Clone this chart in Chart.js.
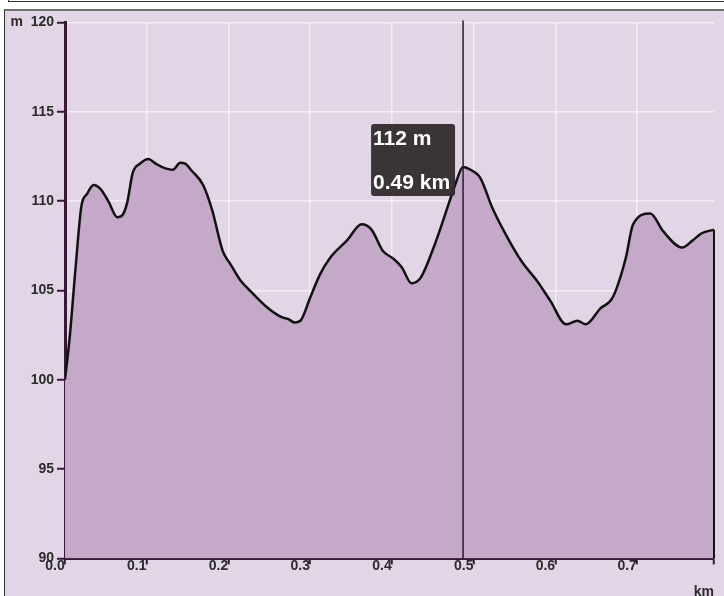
<!DOCTYPE html>
<html>
<head>
<meta charset="utf-8">
<script src="https://cdn.jsdelivr.net/npm/chart.js@4.4.1/dist/chart.umd.min.js"></script>
<style>
  html, body { margin: 0; padding: 0; background: #fff; overflow: hidden; }
  #top-box { position: absolute; left: 8px; right: 0; top: -10px; height: 10px; border: 1px solid #333; border-right: none; }
  #chart-box { position: absolute; left: 4px; top: 9px; width: 720px; height: 620px; background: #e2d5e6; border-left: 1px solid #333; border-top: 2px solid #6f6f6f; }
  canvas { display: block; }
</style>
</head>
<body>
<div id="top-box"></div>
<div id="chart-box"><canvas id="profile" width="719" height="590"></canvas></div>
<script>
'use strict';
// ***** DATA *****
let distanceKm = [0.000, 0.006, 0.013, 0.020, 0.027, 0.035, 0.043, 0.053, 0.064, 0.070,
  0.076, 0.083, 0.092, 0.102, 0.111, 0.119, 0.132, 0.141, 0.147, 0.155,
  0.169, 0.180, 0.193, 0.202, 0.214, 0.226, 0.246, 0.265, 0.273, 0.281,
  0.288, 0.300, 0.312, 0.324, 0.345, 0.363, 0.375, 0.389, 0.401, 0.412,
  0.424, 0.435, 0.451, 0.472, 0.478, 0.487, 0.494, 0.508, 0.523, 0.542,
  0.559, 0.578, 0.594, 0.613, 0.627, 0.637, 0.655, 0.670, 0.686, 0.695,
  0.716, 0.732, 0.755, 0.768, 0.779, 0.794];
let elevationM = [100.0, 102.5, 106.3, 109.7, 110.4, 110.9, 110.7, 110.0, 109.1, 109.2,
  109.9, 111.6, 112.1, 112.35, 112.1, 111.9, 111.75, 112.15, 112.1, 111.7,
  110.9, 109.5, 107.2, 106.5, 105.6, 105.0, 104.1, 103.5, 103.4, 103.2,
  103.3, 104.6, 105.9, 106.8, 107.8, 108.7, 108.4, 107.2, 106.8, 106.3,
  105.4, 105.7, 107.4, 110.2, 111.0, 111.9, 111.8, 111.3, 109.6, 107.9,
  106.6, 105.5, 104.4, 103.1, 103.3, 103.1, 104.0, 104.6, 106.8, 108.7,
  109.3, 108.3, 107.4, 107.8, 108.2, 108.4];
let xTickStep = 0.1;
let yTickStep = 5;
let yMin = 90;
let yMax = 120;
let hoverIndex = 45; // point under the cursor (0.49 km)

// ***** STYLE *****
let axisColor = '#351935';
let labelColor = '#2b2b2b';
let gridColor = 'rgba(255,255,255,0.6)';

Chart.defaults.font.family = '"Liberation Sans", Arial, sans-serif';

let points = distanceKm.map((d, i) => ({ x: d, y: elevationM[i] }));
let xMax = distanceKm[distanceKm.length - 1];

// Crosshair, hover label and closing edge of the profile
let hoverPlugin = {
  id: 'hoverPlugin',
  afterDatasetsDraw(chart) {
    let c = chart.ctx;
    let area = chart.chartArea;
    let meta = chart.getDatasetMeta(0);
    let last = meta.data[meta.data.length - 1];

    c.save();
    c.strokeStyle = '#111';
    c.lineWidth = 2;
    c.beginPath();
    c.moveTo(last.x, last.y);
    c.lineTo(last.x, area.bottom);
    c.stroke();

    let pt = meta.data[hoverIndex];
    c.strokeStyle = '#2a1a2a';
    c.lineWidth = 1.5;
    c.beginPath();
    c.moveTo(pt.x, area.top - 2);
    c.lineTo(pt.x, area.bottom);
    c.stroke();

    let boxW = 84;
    let boxH = 72;
    let boxX = pt.x - 8 - boxW;
    let boxY = pt.y - 43;
    c.fillStyle = 'rgba(48,43,46,0.95)';
    c.beginPath();
    c.roundRect(boxX, boxY, boxW, boxH, 3);
    c.fill();

    c.fillStyle = '#fff';
    c.font = 'bold 21px "Liberation Sans", Arial, sans-serif';
    c.textBaseline = 'middle';
    c.textAlign = 'left';
    c.fillText(Math.round(elevationM[hoverIndex]) + ' m', boxX + 2, boxY + 15);
    c.fillText(distanceKm[hoverIndex].toFixed(2) + ' km', boxX + 2, boxY + 59);
    c.restore();
  }
};

let chartConfig = {
  type: 'line',
  data: {
    datasets: [{
      data: points,
      borderColor: '#111111',
      borderWidth: 2.5,
      backgroundColor: '#c5a9c8',
      fill: 'start',
      pointRadius: 0,
      cubicInterpolationMode: 'monotone'
    }]
  },
  options: {
    responsive: false,
    animation: false,
    layout: { padding: { top: 6, right: 10, bottom: 0, left: 0 } },
    plugins: {
      legend: { display: false },
      tooltip: { enabled: false }
    },
    scales: {
      x: {
        type: 'linear',
        min: 0,
        max: xMax,
        border: { color: axisColor, width: 3 },
        grid: {
          color: (ctx) => (ctx.tick && ctx.tick.value === xMax) ? 'rgba(0,0,0,0)' : gridColor,
          lineWidth: 1.5,
          tickColor: axisColor,
          tickLength: 6,
          tickWidth: 2
        },
        ticks: {
          stepSize: xTickStep,
          color: labelColor,
          padding: -7,
          labelOffset: -10,
          maxRotation: 0,
          font: { size: 14, weight: 'bold' },
          callback: (v) => v === xMax ? '' : v.toFixed(1)
        },
        title: {
          display: true,
          text: 'km',
          align: 'end',
          color: labelColor,
          padding: { top: 17, bottom: 0 },
          font: { size: 14, weight: 'bold' }
        }
      },
      y: {
        min: yMin,
        max: yMax,
        afterFit: (scale) => { scale.width = 60; },
        border: { color: axisColor, width: 3 },
        grid: {
          color: gridColor,
          lineWidth: 1.5,
          tickColor: axisColor,
          tickLength: 8,
          tickWidth: 2
        },
        ticks: {
          stepSize: yTickStep,
          color: labelColor,
          padding: 3,
          font: { size: 14, weight: 'bold' },
          callback: (v) => v === yMax ? 'm  ' + v : String(v)
        }
      }
    }
  },
  plugins: [hoverPlugin]
};

new Chart(document.getElementById('profile'), chartConfig);
</script>
</body>
</html>
